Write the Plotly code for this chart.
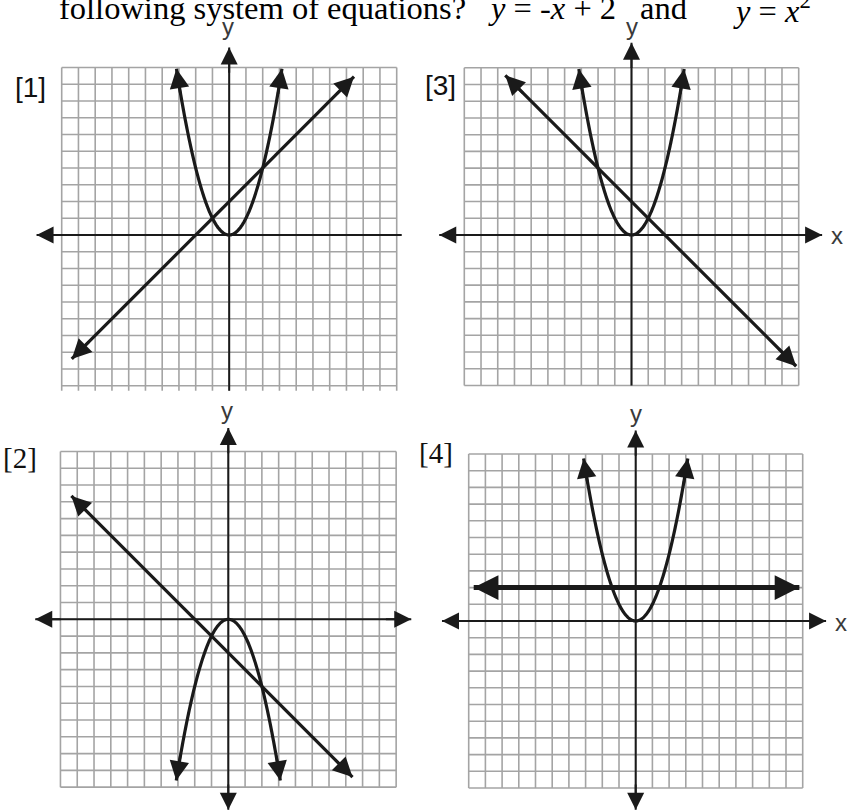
import numpy as np
import plotly.graph_objects as go

# the four small answer graphs, in graph units (order: top-left, top-right, bottom-left, bottom-right)
panel_labels = ["[1]", "[3]", "[2]", "[4]"]
parabola_a = [1, 1, -1, 1]            # y = a * x^2
parabola_reach = [3.15, 3.15, 3.1, 3.12]
line_slope = [1, -1, -1, 0]           # y = m * x + b
line_intercept = [2, 2, -2, 2]
line_from = [-9.4, -7.55, -9.35, -9.7]
line_to = [7.45, 9.85, 7.4, 9.8]
grid_bottom = [-9.3, -9, -10, -10]
x_axis_from = [-11.5, -11.5, -11.5, -11.6]
x_axis_to = [10.3, 11.4, 10.9, 11.4]
x_axis_arrow = [False, True, True, True]
y_axis_from = [-9.3, -9, -11.35, -11.3]
y_axis_arrow = [False, False, True, True]
y_axis_to = [11.2, 11.5, 11.4, 11.4]

question = "following system of equations?"
eq_line = "<i>y</i> = -<i>x</i> + 2"
eq_joiner = "and"
eq_curve = "<i>y</i> = <i>x</i><sup>2</sup>"

# page geometry (pixels)
W, H = 848, 811
origin_px = [(229.2, 235), (631.5, 235), (228.3, 619.3), (635.7, 621)]
cell_px = [16.75, 16.72, 16.785, 16.7]
box_px = [(0, 415, 0, 398), (418, 848, 0, 398), (0, 415, 398, 811), (418, 848, 398, 811)]
label_px = [(30, 87), (441, 86), (20, 458), (436, 453)]
label_font = ["Liberation Sans", "Liberation Sans", "Liberation Serif", "Liberation Serif"]
label_size = [28, 28, 29, 29]
ylab_px = [(228, 27), (632, 27), (227, 411), (636, 413)]
xlab_px = [None, (837, 235), None, (841, 622)]
curve_w = [3.2, 3.2, 3.2, 5]

ink = "#1a1a1a"
grid_col = "#a4a4a4"

fig = go.Figure()
notes = []


def paper(px, py):
    return px / W, 1 - py / H


def head(xa, ya, tip, direction, width, size=1.7, back=1.6):
    d = np.array(direction, dtype=float)
    d = d / np.hypot(*d)
    tail = np.array(tip) - d * back
    notes.append(dict(x=tip[0], y=tip[1], ax=tail[0], ay=tail[1],
                      xref=xa, yref=ya, axref=xa, ayref=ya, text="",
                      showarrow=True, arrowhead=2, arrowsize=size,
                      arrowwidth=width, arrowcolor=ink, standoff=0))


for i in range(4):
    n = "" if i == 0 else str(i + 1)
    xa, ya = "x" + n, "y" + n
    ox, oy = origin_px[i]
    s = cell_px[i]
    x0, x1, y0, y1 = box_px[i]
    fig.layout["xaxis" + n] = dict(domain=[x0 / W, x1 / W], range=[(x0 - ox) / s, (x1 - ox) / s],
                                   visible=False, anchor=ya, fixedrange=True)
    fig.layout["yaxis" + n] = dict(domain=[1 - y1 / H, 1 - y0 / H], range=[(oy - y1) / s, (oy - y0) / s],
                                   visible=False, anchor=xa, fixedrange=True)

    # graph paper
    gx, gy = [], []
    for k in range(-10, 11):
        gx += [k, k, None]
        gy += [grid_bottom[i], 10, None]
    for k in range(int(np.ceil(grid_bottom[i])), 11):
        gx += [-10, 10, None]
        gy += [k, k, None]
    fig.add_trace(go.Scatter(x=gx, y=gy, mode="lines", line=dict(color=grid_col, width=1.6),
                             xaxis=xa, yaxis=ya, hoverinfo="skip"))

    # axes
    fig.add_trace(go.Scatter(x=[x_axis_from[i], x_axis_to[i], None, 0, 0],
                             y=[0, 0, None, y_axis_from[i], y_axis_to[i]],
                             mode="lines", line=dict(color=ink, width=2),
                             xaxis=xa, yaxis=ya, hoverinfo="skip"))
    head(xa, ya, (x_axis_from[i], 0), (-1, 0), 2)
    if x_axis_arrow[i]:
        head(xa, ya, (x_axis_to[i], 0), (1, 0), 2)
    head(xa, ya, (0, y_axis_to[i]), (0, 1), 2)
    if y_axis_arrow[i]:
        head(xa, ya, (0, y_axis_from[i]), (0, -1), 2)

    # parabola
    r = parabola_reach[i]
    a = parabola_a[i]
    px = np.linspace(-r, r, 121)
    fig.add_trace(go.Scatter(x=px, y=a * px ** 2, mode="lines",
                             line=dict(color=ink, width=curve_w[0], shape="spline"),
                             xaxis=xa, yaxis=ya, hoverinfo="skip"))
    head(xa, ya, (r, a * r * r), (1, 2 * a * r), 2.6, 1.5)
    head(xa, ya, (-r, a * r * r), (-1, 2 * a * r), 2.6, 1.5)

    # straight line
    m, b = line_slope[i], line_intercept[i]
    lx = np.array([line_from[i], line_to[i]])
    fig.add_trace(go.Scatter(x=lx, y=m * lx + b, mode="lines",
                             line=dict(color=ink, width=curve_w[i]),
                             xaxis=xa, yaxis=ya, hoverinfo="skip"))
    hw = 2.6 if curve_w[i] < 4 else 3.8
    hs = 1.5 if curve_w[i] < 4 else 1.3
    head(xa, ya, (lx[1], m * lx[1] + b), (1, m), hw, hs)
    head(xa, ya, (lx[0], m * lx[0] + b), (-1, -m), hw, hs)

    # labels
    lxp, lyp = paper(*label_px[i])
    notes.append(dict(x=lxp, y=lyp, xref="paper", yref="paper", text=panel_labels[i],
                      showarrow=False, xanchor="center", yanchor="middle",
                      font=dict(family=label_font[i], size=label_size[i], color="#111")))
    yxp, yyp = paper(*ylab_px[i])
    notes.append(dict(x=yxp, y=yyp, xref="paper", yref="paper", text="y",
                      showarrow=False, xanchor="center", yanchor="middle",
                      font=dict(family="Liberation Sans", size=24, color="#3a3a3a")))
    if xlab_px[i]:
        xxp, xyp = paper(*xlab_px[i])
        notes.append(dict(x=xxp, y=xyp, xref="paper", yref="paper", text="x",
                          showarrow=False, xanchor="center", yanchor="middle",
                          font=dict(family="Liberation Sans", size=24, color="#3a3a3a")))

# question line, cut by the top of the page
for txt, left in [(question, 57), (eq_line, 486), (eq_joiner, 638), (eq_curve, 731)]:
    tx, ty = paper(left, 8.5)
    notes.append(dict(x=tx, y=ty, xref="paper", yref="paper", text=txt, showarrow=False,
                      xanchor="left", yanchor="middle",
                      font=dict(family="Liberation Serif", size=32.5, color="#000")))

fig.update_layout(width=W, height=H, margin=dict(l=0, r=0, t=0, b=0),
                  paper_bgcolor="white", plot_bgcolor="rgba(0,0,0,0)",
                  showlegend=False, annotations=notes)

fig.write_html("out.html", config={"displayModeBar": False},
               post_script="document.body.style.margin='0';")
